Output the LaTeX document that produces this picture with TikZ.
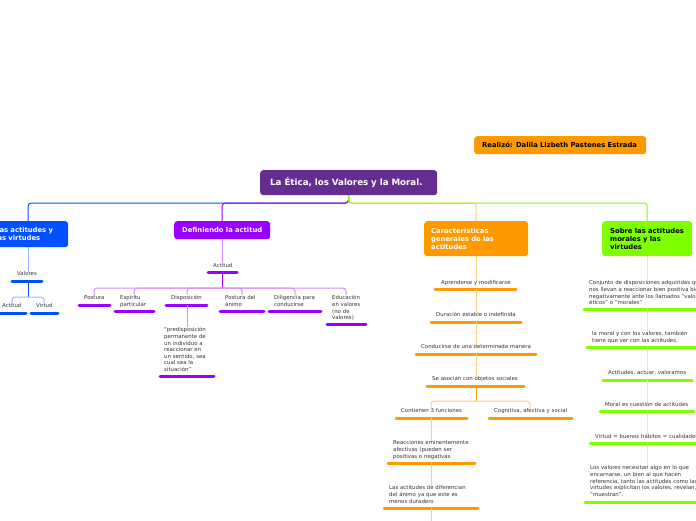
\documentclass[tikz,border=0pt]{standalone}
\usepackage{fontspec}
\setmainfont{DejaVu Sans}
\definecolor{ttl}{HTML}{662D91}
\definecolor{cB}{HTML}{0050FF}
\definecolor{cBl}{HTML}{9DB8FF}
\definecolor{cP}{HTML}{9900FF}
\definecolor{cPl}{HTML}{D591FF}
\definecolor{cO}{HTML}{FF9900}
\definecolor{cOl}{HTML}{FFCC80}
\definecolor{cG}{HTML}{80FF00}
\definecolor{cGl}{HTML}{CCFF99}
\definecolor{txt}{HTML}{333333}
\tikzset{
  item/.style={anchor=base west, inner sep=0, text width=#1, align=left,
    font=\fontsize{5.4}{6.6}\selectfont, text=txt},
  item/.default=120,
  box/.style={rounded corners=3, anchor=north west, inner ysep=0,
    font=\bfseries\fontsize{6.8}{8}\selectfont, align=left},
  ul/.style={line width=3, line cap=round, draw=#1},
  tr/.style={line width=1, draw=#1},
  trc/.style={line width=1, draw=#1, rounded corners=3},
}
\begin{document}
\begin{tikzpicture}[x=1pt,y=-1pt]
\useasboundingbox (0,0) rectangle (696,520);
\clip (0,0) rectangle (696,520);

% ---------- main boxes ----------
\node[box, fill=cO, text=black, minimum height=18, inner xsep=8, text width=156] (real) at (474,136) {\mbox{Realizó: Dalila Lizbeth Pastenes Estrada}};
\node[box, fill=ttl, text=white, font=\bfseries\fontsize{8.7}{10}\selectfont, minimum height=25, inner xsep=10, text width=157] (ttl) at (260,170) {\mbox{La Ética, los Valores y la Moral.}};

\node[box, fill=cB, text=white, minimum height=26, inner xsep=7, text width=66] (bN) at (-12,221) {\mbox{Las actitudes y}\\\mbox{las virtudes}};
\node[box, fill=cP, text=white, minimum height=18, inner xsep=8, text width=80] (pN) at (174,221) {\mbox{Definiendo la actitud}};
\node[box, fill=cO, text=white, minimum height=35, inner xsep=7, text width=90] (oN) at (424,221) {\mbox{Características}\\\mbox{generales de las}\\actitudes};
\node[box, fill=cG, text=black, minimum height=35, inner xsep=8, text width=74] (gN) at (602,221) {\mbox{Sobre las actitudes}\\\mbox{morales y las}\\virtudes};

% ---------- branches from title ----------
\coordinate (bar) at (348.5,203);
\draw[trc=cB] (ttl.south) -- (bar) -| (bN.north);
\draw[trc=cP] (ttl.south) -- (bar) -| (pN.north);
\draw[trc=cOl] (ttl.south) -- (bar) -| (oN.north);
\draw[trc=cG] (ttl.south) -- (bar) -| (gN.north);

% ---------- blue branch ----------
\node[item] (b0) at (17,275.8) {Valores};
\draw[ul=cB] (12,281) -- (42,281);
\coordinate (b0u) at (28,281);
\draw[tr=cBl] (bN.south) -- (bN.south |- b0.north);
\coordinate (bbar) at (28,297);
\draw[tr=cB] (b0u) -- (bbar);
\node[item] (b1) at (2,307.8) {Actitud};
\node[item] (b2) at (36,307.8) {Virtud};
\draw[ul=cB] (-5,313) -- (26,313);
\draw[ul=cB] (31,313) -- (58,313);
\coordinate (b1d) at (12,0);
\coordinate (b2d) at (44,0);
\draw[trc=cBl] (bbar) -| (b1d |- b1.north);
\draw[trc=cBl] (bbar) -| (b2d |- b2.north);

% ---------- purple branch ----------
\node[item] (p0) at (213,267.8) {Actitud};
\draw[ul=cP] (208,272) -- (237,272);
\coordinate (p0u) at (222,272);
\draw[tr=cPl] (pN.south) -- (pN.south |- p0.north);
\coordinate (pbar) at (222,288);
\draw[tr=cP] (p0u) -- (pbar);

\node[item] (p1) at (84,299.8) {Postura};
\node[item] (p2) at (120,299.8) {Espíritu\\particular};
\node[item] (p3) at (171,299.8) {Disposición};
\node[item] (p4) at (225,299.8) {Postura del\\ánimo};
\node[item] (p5) at (274,299.8) {Diligencia para\\conducirse};
\node[item] (p6) at (332,299.8) {Educación\\en valores\\(no de\\valores)};
\draw[ul=cP] (79,305) -- (110,305);
\draw[ul=cP] (115,311) -- (154,311);
\draw[ul=cP] (166,305) -- (207,305);
\draw[ul=cP] (220,311) -- (264,311);
\draw[ul=cP] (269,311) -- (321,311);
\draw[ul=cP] (327,324) -- (366,324);
\coordinate (p1d) at (94,0);
\coordinate (p2d) at (134,0);
\coordinate (p3d) at (187,0);
\coordinate (p4d) at (242,0);
\coordinate (p5d) at (295,0);
\coordinate (p6d) at (346,0);
\draw[trc=cPl] (pbar) -| (p1d |- p1.north);
\draw[trc=cPl] (pbar) -| (p2d |- p2.north);
\draw[trc=cPl] (pbar) -| (p3d |- p3.north);
\draw[trc=cPl] (pbar) -| (p4d |- p4.north);
\draw[trc=cPl] (pbar) -| (p5d |- p5.north);
\draw[trc=cPl] (pbar) -| (p6d |- p6.north);
\node[item] (p7) at (164,331.8) {"predisposición\\permanente de\\un individuo a\\reaccionar en\\un sentido, sea\\cual sea la\\situación"};
\draw[ul=cP] (160,376) -- (214,376);
\coordinate (p3u) at (187,305);
\draw[tr=cPl] (p3u) -- (p3u |- p7.north);

% ---------- orange branch ----------
\node[item] (o1) at (441,284.8) {Aprenderse y modificarse};
\node[item] (o2) at (436,316.8) {Duración estable o indefinida};
\node[item] (o3) at (421,348.8) {Conducirse de una determinada manera};
\node[item] (o4) at (432,380.8) {Se asocian con objetos sociales};
\draw[ul=cO] (435,289) -- (516,289);
\draw[ul=cO] (431,322) -- (521,322);
\draw[ul=cO] (416,354) -- (536,354);
\draw[ul=cO] (427,386) -- (524,386);
\coordinate (o1u) at (476,289);
\coordinate (o2u) at (476,322);
\coordinate (o3u) at (476,354);
\coordinate (o4u) at (476,386);
\draw[tr=cOl] (oN.south) -- (oN.south |- o1.north);
\draw[tr=cOl] (o1u) -- (o1u |- o2.north);
\draw[tr=cOl] (o2u) -- (o2u |- o3.north);
\draw[tr=cOl] (o3u) -- (o3u |- o4.north);
\coordinate (obar) at (476,401);
\draw[tr=cO] (o4u) -- (obar);
\node[item] (o5) at (401,412.8) {Contienen 3 funciones};
\node[item] (o6) at (494,412.8) {Cognitiva, afectiva y social};
\draw[ul=cO] (396,418) -- (467,418);
\draw[ul=cO] (489,418) -- (572,418);
\coordinate (o5d) at (431,0);
\coordinate (o6d) at (530,0);
\draw[trc=cOl] (obar) -| (o5d |- o5.north);
\draw[trc=cOl] (obar) -| (o6d |- o6.north);
\node[item] (o7) at (393,444.8) {Reacciones eminentemente\\afectivas (pueden ser\\positivas o negativas};
\node[item] (o8) at (389,489.8) {Las actitudes de diferencian\\del ánimo ya que este es\\menos duradero};
\draw[ul=cO] (388,463) -- (475,463);
\draw[ul=cO] (384,508) -- (478,508);
\coordinate (o5u) at (431,418);
\coordinate (o7u) at (431,463);
\coordinate (o8u) at (431,508);
\coordinate (oend) at (431,530);
\draw[tr=cOl] (o5u) -- (o5u |- o7.north);
\draw[tr=cOl] (o7u) -- (o7u |- o8.north);
\draw[tr=cOl] (o8u) -- (oend);

% ---------- green branch ----------
\node[item=160] (g1) at (589,284.8) {Conjunto de disposiciones adquiridas que\\nos llevan a reaccionar bien positiva bien\\negativamente ante los llamados "valores\\éticos" o "morales"};
\node[item] (g2) at (592,335.8) {la moral y con los valores, también\\tiene que ver con las actitudes.};
\node[item] (g3) at (608,374.8) {Actitudes, actuar, valoramos};
\node[item] (g4) at (605,406.8) {Moral es cuestión de actitudes};
\node[item] (g5) at (595,438.8) {Virtud = buenos hábitos = cualidades};
\node[item=160] (g6) at (590,469.8) {Los valores necesitan algo en lo que\\encarnarse, un bien al que hacen\\referencia, tanto las actitudes como las\\virtudes explicitan los valores, revelan,\\"muestran".};
\draw[ul=cG] (584,309) -- (705,309);
\draw[ul=cG] (587,347) -- (705,347);
\draw[ul=cG] (603,380) -- (692,380);
\draw[ul=cG] (600,411) -- (694,411);
\draw[ul=cG] (590,443) -- (705,443);
\draw[ul=cG] (585,502) -- (705,502);
\coordinate (g1u) at (647,309);
\coordinate (g2u) at (647,347);
\coordinate (g3u) at (647,380);
\coordinate (g4u) at (647,411);
\coordinate (g5u) at (647,443);
\draw[tr=cGl] (gN.south) -- (gN.south |- g1.north);
\draw[tr=cGl] (g1u) -- (g1u |- g2.north);
\draw[tr=cGl] (g2u) -- (g2u |- g3.north);
\draw[tr=cGl] (g3u) -- (g3u |- g4.north);
\draw[tr=cGl] (g4u) -- (g4u |- g5.north);
\draw[tr=cGl] (g5u) -- (g5u |- g6.north);
\end{tikzpicture}
\end{document}
